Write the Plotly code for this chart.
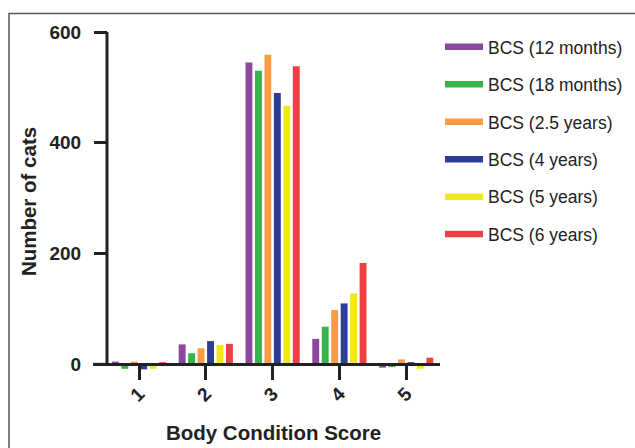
import plotly.graph_objects as go

categories = ["1", "2", "3", "4", "5"]
series_names = ["BCS (12 months)", "BCS (18 months)", "BCS (2.5 years)",
                "BCS (4 years)", "BCS (5 years)", "BCS (6 years)"]
bcs_12m = [5, 36, 545, 46, -6]
bcs_18m = [-8, 20, 530, 68, -5]
bcs_2_5y = [5, 29, 559, 98, 9]
bcs_4y = [-9, 42, 490, 110, 4]
bcs_5y = [-8, 35, 467, 128, -8]
bcs_6y = [4, 37, 538, 183, 12]
y_ticks = [0, 200, 400, 600]

series_values = [bcs_12m, bcs_18m, bcs_2_5y, bcs_4y, bcs_5y, bcs_6y]
colors = ["#8A499C", "#34B44A", "#F89C45", "#2C3E93", "#F0E81C", "#EE4043"]

FONT = "Liberation Sans, Arial, sans-serif"
INK = "#222222"

Y_MIN, Y_MAX = -12, 600

fig = go.Figure()
for name, vals, col in zip(series_names, series_values, colors):
    fig.add_trace(go.Bar(x=categories, y=vals, name=name, marker_color=col,
                         marker_line_width=0, showlegend=False))
# legend entries drawn as thick line swatches
for i, (name, col) in enumerate(zip(series_names, colors)):
    fig.add_trace(go.Scatter(x=[None], y=[None], mode="lines", name=name,
                             line=dict(color=col, width=6.5),
                             legendgroup=f"g{i}", showlegend=True))

W, H = 635, 448
y600_px, y0_px = 32.0, 364.0
unit = (y0_px - y600_px) / Y_MAX
bottom_px = y0_px + (-Y_MIN) * unit
L, R, T = 107, 195, y600_px
B = H - bottom_px
pw, ph = W - L - R, bottom_px - T
cat_step = 66.8
first_cat_px = 139.0

def px(x):
    return (x - L) / pw

def py(y):
    return (bottom_px - y) / ph

x_lo = -(first_cat_px - L) / cat_step
x_hi = x_lo + pw / cat_step

fig.update_layout(
    width=W, height=H,
    margin=dict(l=L, r=R, t=T, b=B, pad=0, autoexpand=False),
    paper_bgcolor="white", plot_bgcolor="white",
    font=dict(family=FONT, color=INK),
    barmode="group", bargap=0.15, bargroupgap=0.27,
    showlegend=True,
    legend=dict(x=px(440), y=py(29), xanchor="left", yanchor="top",
                font=dict(size=17.5, family=FONT, color=INK),
                traceorder="grouped", tracegroupgap=11.7,
                bgcolor="rgba(0,0,0,0)", borderwidth=0,
                itemwidth=38, maxheight=440),
    xaxis=dict(type="category", range=[x_lo, x_hi],
               anchor="free", position=py(y0_px),
               showline=True, linewidth=3, linecolor=INK,
               ticks="outside", ticklen=14, tickwidth=3, tickcolor=INK,
               tickangle=-45, showgrid=False, zeroline=False,
               ticklabelstandoff=-5,
               tickfont=dict(size=19, family=FONT, color=INK, weight="bold"),
               title=dict(text="<b>Body Condition Score</b>",
                          font=dict(size=20.5, family=FONT, color=INK),
                          standoff=20)),
    yaxis=dict(range=[Y_MIN, Y_MAX], anchor="free", position=0,
               showline=False,
               ticks="outside", ticklen=13, tickwidth=3, tickcolor=INK,
               tickvals=y_ticks, showgrid=False, zeroline=False,
               ticklabelstandoff=9,
               tickfont=dict(size=19, family=FONT, color=INK, weight="bold"),
               title=dict(text="<b>Number of cats</b>",
                          font=dict(size=20.5, family=FONT, color=INK),
                          standoff=6)),
    shapes=[
        dict(type="rect", xref="paper", yref="paper",
             x0=px(9), x1=px(645), y0=py(460), y1=py(13.5),
             line=dict(color="#555555", width=1.5),
             fillcolor="rgba(0,0,0,0)", layer="below"),
        dict(type="line", xref="paper", yref="y",
             x0=0, x1=0, y0=0, y1=Y_MAX,
             line=dict(color=INK, width=3), layer="above"),
        dict(type="line", xref="paper", yref="paper",
             x0=px(93), x1=px(108), y0=py(y0_px), y1=py(y0_px),
             line=dict(color=INK, width=3), layer="above"),
    ],
)

fig.write_html("out.html", config={"displayModeBar": False},
               post_script="document.body.style.margin='0';")
